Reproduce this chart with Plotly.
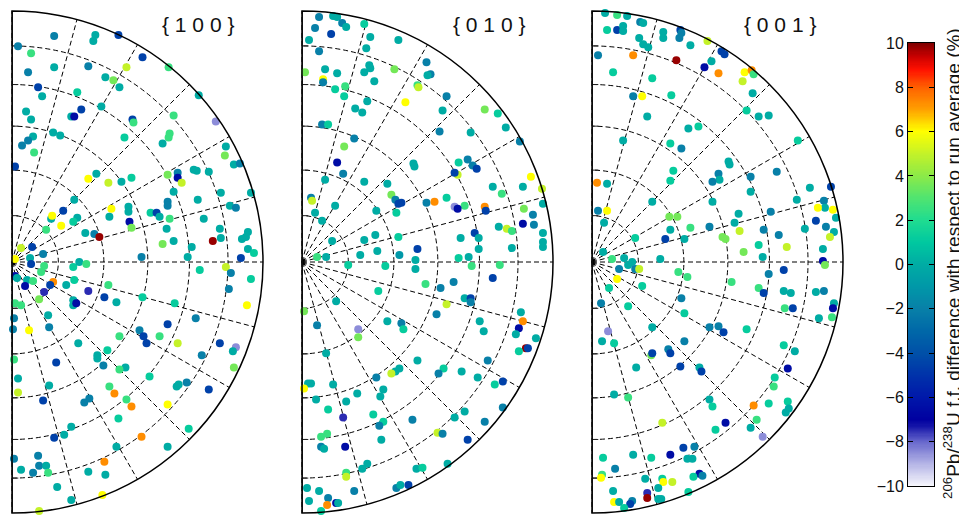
import numpy as np
import plotly.graph_objects as go

# ---------------- data ----------------
PANEL_TITLES = ["{ 1 0 0 }", "{ 0 1 0 }", "{ 0 0 1 }"]

# (x, y) in equal-area projection plane (unit radius), value = % difference
PTS_100 = [
    (0.168,0.900,-2),(0.332,0.904,0),(0.324,0.880,0),(0.424,0.904,-4.5),(0.024,0.860,-2),(0.076,0.832,2.5),
    (0.520,0.816,-4.5),(0.168,0.776,0),(0.304,0.780,-2),(0.456,0.776,5),(0.624,0.776,2.5),(0.064,0.756,-2),
    (0.372,0.736,0),(0.404,0.724,3.6),(0.428,0.696,0),(0.104,0.696,-4.5),(0.120,0.660,0),(0.260,0.676,1.2),
    (0.744,0.664,0),(0.056,0.600,0),(0.276,0.608,-4.5),(0.236,0.580,0),(0.248,0.580,-6.5),(0.356,0.620,0),
    (0.076,0.568,0),(0.480,0.568,-4.5),(0.484,0.556,2.5),(0.644,0.584,2.5),(0.812,0.560,-8.5),(0.164,0.516,0),
    (0.192,0.504,0),(0.628,0.512,2.5),(0.624,0.496,2.5),(0.448,0.496,1.2),(0.084,0.500,0),(0.064,0.484,-2),
    (0.040,0.464,-2),(0.600,0.472,0),(0.852,0.460,0),(0.088,0.436,2.5),(0.848,0.424,3.6),(0.012,0.380,-4.5),
    (0.884,0.388,0),(0.908,0.392,-2),(0.724,0.368,0),(0.736,0.364,0),(0.784,0.360,0),(0.660,0.356,-2),
    (0.660,0.336,-6.5),(0.620,0.348,3.6),(0.676,0.316,5),(0.336,0.352,0),(0.304,0.332,6),(0.476,0.336,1.2),
    (0.384,0.316,5),(0.436,0.320,0),(0.644,0.280,0),(0.832,0.276,0),(0.952,0.276,0),(0.248,0.248,0),
    (0.740,0.248,0),(0.620,0.240,-2),(0.620,0.224,-2),(0.464,0.220,0),(0.464,0.200,0),(0.396,0.212,6),
    (0.204,0.204,-4.5),(0.552,0.196,1.2),(0.576,0.196,-4.5),(0.156,0.172,0),(0.160,0.184,6),(0.868,0.224,0),
    (0.892,0.216,-2),(0.388,0.180,0),(0.260,0.176,0),(0.244,0.160,1.2),(0.588,0.180,0),(0.628,0.172,2.5),
    (0.764,0.172,0),(0.468,0.160,-6.5),(0.476,0.136,3.6),(0.196,0.144,6),(0.136,0.128,2.5),(0.616,0.132,0),
    (0.828,0.132,0),(0.292,0.116,0),(0.328,0.112,-2),(0.348,0.100,9.8),(0.940,0.120,0),(0.932,0.100,0),
    (0.916,0.092,0),(0.800,0.084,9.8),(0.832,0.096,0),(0.600,0.072,3.6),(0.644,0.084,0),(0.036,0.056,5),
    (0.080,0.060,-4.5),(0.716,0.060,0),(0.940,0.052,0),(0.964,0.036,1.2),(0.124,0.032,-2),(0.912,0.016,-4.5),
    (0.012,0.012,6),(0.072,0.016,0),
    (0.516,0.020,-2),(0.700,0.020,0),(0.244,-0.020,1.2),(0.268,0.000,0),(0.296,-0.008,2.5),(0.076,-0.008,-4.5),
    (0.128,-0.016,2.5),(0.012,-0.056,-6.5),(0.020,-0.064,0),(0.060,-0.072,0),(0.084,-0.076,2.5),(0.116,-0.040,2.5),
    (0.164,-0.080,7.3),(0.052,-0.096,-6.5),(0.152,-0.092,-4.5),(0.748,-0.032,1.2),(0.852,-0.020,5),(0.872,-0.044,-2),
    (0.952,-0.068,1.2),(0.248,-0.072,1.2),(0.216,-0.092,0),(0.384,-0.092,2.5),(0.304,-0.116,-7.5),(0.128,-0.120,-7.5),
    (0.864,-0.108,-2),(0.368,-0.140,-4.5),(0.520,-0.140,1.2),(0.108,-0.148,3.6),(0.244,-0.152,0),(0.244,-0.172,0),
    (0.256,-0.164,-6.5),(0.416,-0.160,0),(0.648,-0.164,1.2),(0.012,-0.164,2.5),(0.036,-0.172,2.5),(0.936,-0.172,6),
    (0.144,-0.212,0),(0.732,-0.224,-2),(0.008,-0.224,-2),(0.004,-0.268,-2),(0.068,-0.272,6),(0.148,-0.260,-2),
    (0.620,-0.248,-4.5),(0.508,-0.272,-2),(0.524,-0.296,-4.5),(0.536,-0.324,-4.5),(0.428,-0.296,2.5),(0.588,-0.296,2.5),
    (0.660,-0.324,5),(0.828,-0.324,-4.5),(0.892,-0.340,-8.5),(0.880,-0.356,0),(0.264,-0.324,0),(0.380,-0.352,1.2),
    (0.340,-0.372,0),(0.340,-0.384,0),(0.756,-0.372,-2),(0.008,-0.388,2.5),(0.176,-0.400,-4.5),(0.364,-0.412,-2),
    (0.452,-0.420,0),(0.428,-0.428,2.5),(0.884,-0.420,3.6),(0.024,-0.464,0),(0.548,-0.456,1.2),(0.656,-0.496,0),
    (0.664,-0.488,0),(0.696,-0.480,-2),(0.148,-0.492,0),(0.388,-0.496,2.5),(0.784,-0.508,-4.5),(0.024,-0.520,5),
    (0.408,-0.524,7.3),(0.456,-0.548,2.5),(0.124,-0.552,-4.5),(0.288,-0.560,-2),(0.308,-0.544,-2),(0.476,-0.576,7.3),
    (0.620,-0.568,6),(0.424,-0.624,1.2),(0.704,-0.664,1.2),(0.236,-0.656,0),(0.208,-0.688,0),(0.168,-0.700,-4.5),
    (0.516,-0.696,7.3),(0.416,-0.736,0),(0.620,-0.736,0),(0.008,-0.784,-2),(0.104,-0.772,-2),(0.108,-0.812,-2),
    (0.136,-0.812,0),(0.368,-0.796,7.3),(0.036,-0.828,0),(0.084,-0.840,-2),(0.144,-0.840,2.5),(0.304,-0.836,0),
    (0.372,-0.848,0),(0.180,-0.896,0),(0.236,-0.948,0),(0.360,-0.928,6),(0.064,-1.000,0),(0.108,-0.992,5),
]

PTS_010 = [
    (0.068,0.976,-2),(0.124,0.980,0),(0.140,0.976,0),(0.160,0.952,-2),(0.176,0.936,0),(0.052,0.932,-2),
    (0.116,0.908,-4.5),(0.248,0.948,1.2),(0.272,0.896,0),(0.028,0.884,0),(0.384,0.884,0),(0.256,0.852,0),
    (0.068,0.840,-2),(0.496,0.796,-2),(0.012,0.756,3.6),(0.092,0.768,0),(0.140,0.752,0),(0.248,0.756,0),
    (0.268,0.784,0),(0.272,0.772,0),(0.368,0.768,3.6),(0.512,0.748,-2),(0.500,0.744,0),(0.084,0.728,6),
    (0.084,0.716,-2),(0.288,0.720,0),(0.708,0.712,6),(0.172,0.700,2.5),(0.132,0.688,1.2),(0.460,0.704,2.5),
    (0.464,0.696,5),(0.168,0.660,1.2),(0.576,0.660,-2),(0.412,0.636,6),(0.260,0.640,0),(0.212,0.612,0),
    (0.240,0.596,0),(0.728,0.608,3.6),(0.560,0.604,0),(0.780,0.592,1.2),(0.080,0.548,-2),(0.104,0.548,1.2),
    (0.812,0.536,0),(0.548,0.520,-2),(0.672,0.516,0),(0.208,0.492,-2),(0.868,0.480,-2),(0.168,0.460,3.6),
    (0.140,0.396,-6.5),(0.624,0.396,1.2),(0.660,0.408,-2),(0.680,0.384,-2),(0.696,0.372,-4.5),(0.444,0.392,0),
    (0.448,0.380,0),(0.164,0.352,-2),(0.620,0.348,5),(0.608,0.356,-4.5),(0.912,0.340,6),(0.092,0.328,0),
    (0.248,0.320,0),(0.340,0.312,0),(0.760,0.300,0),(0.880,0.300,0),(0.956,0.292,5),(0.796,0.272,2.5),
    (0.036,0.256,-2),(0.040,0.244,5),(0.356,0.268,3.6),(0.372,0.248,-2),(0.384,0.232,-4.5),(0.396,0.236,-4.5),
    (0.576,0.256,1.2),(0.496,0.236,-2),(0.528,0.240,7.3),(0.960,0.232,0),(0.132,0.224,0),(0.648,0.224,2.5),
    (0.728,0.220,7.3),(0.732,0.204,-4.5),(0.608,0.220,-8.5),(0.620,0.212,-6.5),(0.296,0.204,0),(0.052,0.196,0),
    (0.376,0.196,1.2),(0.884,0.212,3.6),(0.920,0.188,-2),(0.080,0.164,0),(0.880,0.152,-6.5),(0.924,0.148,-2),
    (0.784,0.140,0),(0.816,0.132,5),(0.836,0.124,2.5),(0.292,0.108,0),(0.384,0.100,1.2),(0.688,0.116,-4.5),
    (0.704,0.096,0),(0.632,0.096,0),(0.960,0.116,0),(0.960,0.080,0),(0.960,0.060,0),(0.120,0.084,0),
    (0.248,0.088,0),(0.704,0.052,0),(0.836,0.056,0),(0.460,0.052,-4.5),(0.232,0.028,0),(0.300,0.044,0),
    (0.388,0.028,-1),(0.060,0.020,2.5),(0.096,0.020,0),(0.624,0.016,1.2),(0.664,0.020,0),
    (0.184,-0.012,1.2),(0.332,-0.016,1.2),(0.452,0.008,0),(0.452,-0.028,0),(0.676,-0.016,2.5),(0.788,-0.012,2.5),
    (0.760,-0.064,-4.5),(0.604,-0.080,-2),(0.492,-0.088,2.5),(0.304,-0.116,1.2),(0.552,-0.104,-2),(0.136,-0.156,0),
    (0.648,-0.144,0),(0.672,-0.144,-4.5),(0.672,-0.160,-2),(0.576,-0.168,5),(0.008,-0.196,3.6),(0.536,-0.208,-2),
    (0.872,-0.200,0),(0.880,-0.236,7.3),(0.708,-0.236,0),(0.060,-0.252,-2),(0.340,-0.236,0),(0.396,-0.244,-2),
    (0.404,-0.268,1.2),(0.864,-0.264,-6.5),(0.852,-0.288,0),(0.724,-0.276,0),(0.224,-0.268,-8.5),(0.224,-0.300,3.6),
    (0.932,-0.304,0),(0.960,-0.300,0),(0.892,-0.344,9.8),(0.900,-0.344,-4.5),(0.864,-0.356,1.2),(0.096,-0.364,0),
    (0.740,-0.392,-2),(0.460,-0.392,0),(0.388,-0.424,0),(0.372,-0.436,0),(0.356,-0.444,5),(0.564,-0.424,1.2),
    (0.636,-0.436,0),(0.544,-0.444,-2),(0.296,-0.460,-2),(0.700,-0.460,0),(0.024,-0.484,0),(0.036,-0.484,0),
    (0.124,-0.488,0),(0.768,-0.488,1.2),(0.800,-0.476,-4.5),(0.008,-0.504,6),(0.324,-0.508,0),(0.312,-0.536,0),
    (0.220,-0.524,0),(0.056,-0.548,0),(0.176,-0.556,0),(0.104,-0.588,1.2),(0.284,-0.608,1.2),(0.648,-0.596,0),
    (0.800,-0.580,-2),(0.164,-0.620,-7.5),(0.608,-0.620,0),(0.440,-0.628,-2),(0.324,-0.636,1.2),(0.308,-0.652,-2),
    (0.728,-0.636,-2),(0.540,-0.680,5),(0.560,-0.684,-2),(0.076,-0.696,2.5),(0.100,-0.684,2.5),(0.660,-0.708,-4.5),
    (0.316,-0.708,0),(0.076,-0.736,-2),(0.088,-0.744,0),(0.172,-0.736,-6.5),(0.260,-0.804,0),(0.240,-0.824,0),
    (0.456,-0.824,0),(0.480,-0.820,1.2),(0.580,-0.804,0),(0.576,-0.832,6),(0.176,-0.840,2.5),(0.176,-0.856,5),
    (0.020,-0.900,0),(0.068,-0.912,0),(0.208,-0.912,-2),(0.376,-0.900,-2),(0.392,-0.888,0),(0.424,-0.888,-4.5),
    (0.104,-0.940,-2),(0.028,-0.952,0),(0.100,-0.968,7.3),(0.136,-0.960,-6.5),(0.144,-0.960,0),(0.076,-0.992,1.2),
]

PTS_001 = [
    (0.052,0.992,0),(0.100,0.984,2.5),(0.140,0.980,0),(0.192,0.956,-2),(0.204,0.952,0),(0.060,0.924,1.2),
    (0.100,0.924,-4.5),(0.124,0.940,0),(0.124,0.920,0),(0.284,0.916,0),(0.284,0.892,0),(0.352,0.924,-4.5),
    (0.348,0.892,-2),(0.356,0.912,-2),(0.188,0.892,0),(0.204,0.868,0),(0.224,0.856,0),(0.460,0.880,5),
    (0.392,0.864,0),(0.516,0.840,-4.5),(0.528,0.828,-4.5),(0.024,0.824,-2),(0.164,0.824,7.3),(0.336,0.804,9.8),
    (0.476,0.800,0),(0.448,0.776,-6.5),(0.504,0.752,7.3),(0.608,0.756,6),(0.636,0.764,7.3),(0.644,0.748,2.5),
    (0.600,0.720,5),(0.084,0.756,1.2),(0.240,0.732,1.2),(0.316,0.664,1.2),(0.164,0.660,-2),(0.200,0.660,6),
    (0.640,0.672,0),(0.616,0.604,1.2),(0.664,0.580,0),(0.704,0.584,0),(0.220,0.580,0),(0.384,0.532,0),
    (0.424,0.540,1.2),(0.124,0.484,0),(0.820,0.484,1.2),(0.312,0.472,1.2),(0.356,0.452,-2),(0.544,0.400,0),
    (0.548,0.388,0),(0.324,0.364,1.2),(0.312,0.324,1.2),(0.736,0.360,-2),(0.504,0.352,-2),(0.508,0.328,0),
    (0.480,0.320,-2),(0.632,0.340,-2),(0.020,0.316,7.3),(0.060,0.312,0),(0.952,0.300,-4.5),(0.868,0.296,0),
    (0.632,0.280,0),(0.240,0.240,0),(0.480,0.240,0),(0.816,0.248,0),(0.924,0.244,-2),(0.928,0.216,0),
    (0.024,0.204,-2),(0.060,0.204,6),(0.900,0.216,6),(0.960,0.208,6),(0.584,0.192,0),(0.712,0.200,-2),
    (0.308,0.180,3.6),(0.340,0.180,3.6),(0.892,0.164,-4.5),(0.932,0.140,-2),(0.972,0.176,0),(0.048,0.156,0),
    (0.568,0.156,0),(0.468,0.140,-2),(0.392,0.136,2.5),(0.312,0.128,0),(0.588,0.124,5),(0.684,0.128,-2),
    (0.848,0.132,0),(0.964,0.120,0),(1.000,0.120,3.6),(0.292,0.092,-4.5),(0.368,0.092,0),(0.520,0.100,3.6),
    (0.532,0.092,3.6),(0.744,0.108,-2),(0.948,0.100,5),(0.172,0.096,1.2),(0.776,0.060,5),(0.664,0.068,1.2),
    (0.604,0.040,3.6),(0.920,0.052,0),(1.004,0.060,1.2),(0.044,0.040,0),(0.080,0.012,2.5),(0.128,0.016,0),
    (0.272,0.012,0),(0.680,0.020,0),(0.920,0.004,-6.5),
    (0.160,0.000,0),(0.144,-0.012,0),(0.172,-0.028,-2),(0.188,-0.028,5),(0.108,-0.028,-2),(0.100,-0.068,6),
    (0.344,-0.040,2.5),(0.380,-0.060,2.5),(0.556,-0.080,2.5),(0.704,-0.048,-2),(0.764,-0.032,-4.5),(0.928,-0.012,3.6),
    (1.000,-0.072,-2),(0.068,-0.104,1.2),(0.200,-0.096,1.2),(0.664,-0.104,2.5),(0.684,-0.124,-4.5),(0.764,-0.116,0),
    (0.792,-0.124,0),(0.892,-0.120,0),(0.924,-0.116,-2),(0.356,-0.144,-2),(0.036,-0.164,-2),(0.144,-0.176,1.2),
    (0.768,-0.184,2.5),(0.800,-0.184,-4.5),(0.964,-0.164,0),(0.960,-0.184,-6.5),(0.368,-0.204,1.2),(0.904,-0.224,0),
    (0.956,-0.220,2.5),(0.976,-0.252,2.5),(0.240,-0.260,0),(0.468,-0.260,-2),(0.504,-0.256,-2),(0.524,-0.280,-4.5),
    (0.616,-0.268,1.2),(0.064,-0.276,-8.5),(0.040,-0.316,0),(0.088,-0.324,1.2),(0.368,-0.316,-2),(0.764,-0.332,1.2),
    (0.808,-0.356,0),(0.304,-0.348,-2),(0.312,-0.364,-4.5),(0.236,-0.372,3.6),(0.240,-0.364,-4.5),(0.176,-0.420,0),
    (0.352,-0.416,-4.5),(0.428,-0.420,0),(0.436,-0.436,-4.5),(0.780,-0.424,-6.5),(0.728,-0.460,1.2),(0.724,-0.496,2.5),
    (0.088,-0.528,0),(0.144,-0.540,2.5),(0.468,-0.548,0),(0.480,-0.576,1.2),(0.644,-0.572,7.3),(0.704,-0.564,1.2),
    (0.780,-0.556,1.2),(0.784,-0.584,0),(0.772,-0.600,0),(0.280,-0.640,5),(0.532,-0.640,-6.5),(0.656,-0.628,2.5),
    (0.632,-0.660,0),(0.492,-0.668,1.2),(0.680,-0.696,-8.5),(0.364,-0.740,-4.5),(0.408,-0.736,-2),(0.312,-0.768,-6.5),
    (0.164,-0.768,0),(0.044,-0.780,1.2),(0.236,-0.780,1.2),(0.380,-0.784,0),(0.400,-0.784,0),(0.092,-0.824,-2),
    (0.428,-0.844,-6.5),(0.440,-0.852,-2),(0.404,-0.856,1.2),(0.040,-0.848,2.5),(0.036,-0.860,6),(0.212,-0.864,0),
    (0.280,-0.864,1.2),(0.284,-0.876,6),(0.320,-0.876,5),(0.264,-0.900,0),(0.384,-0.916,1.2),(0.084,-0.912,0),
    (0.220,-0.920,-7.5),(0.220,-0.940,9.8),(0.264,-0.944,0),(0.276,-0.944,0),(0.088,-0.956,6),(0.108,-0.956,0),
    (0.160,-0.952,-2),(0.152,-0.964,-4.5),(0.128,-0.980,1.2),
]

RING_TILTS = [15, 30, 45, 60, 75]          # polar-angle rings (deg)
SPOKE_STEP = 15                             # azimuth spokes (deg)
CB_TICKS = [-10, -8, -6, -4, -2, 0, 2, 4, 6, 8, 10]
CB_TITLE = "<sup>206</sup>Pb/<sup>238</sup>U f.f. difference with respect to run average (%)"

COLORSCALE = [
    [0.00, "#f6f6fc"], [0.05, "#b4b4e6"], [0.10, "#6666cc"], [0.135, "#1414a8"],
    [0.15, "#0000a0"], [0.20, "#0018aa"], [0.25, "#0032aa"], [0.30, "#0050a8"],
    [0.35, "#0068a8"], [0.40, "#0880a8"], [0.45, "#0098a8"], [0.50, "#00aca4"],
    [0.55, "#00c8a0"], [0.60, "#20dc90"], [0.65, "#50e470"], [0.70, "#8cea48"],
    [0.75, "#c4f228"], [0.80, "#ffff00"], [0.825, "#ffd000"], [0.85, "#ffa000"],
    [0.90, "#ff6000"], [0.94, "#ff1000"], [0.97, "#c80000"], [1.00, "#800000"],
]

# ---------------- figure ----------------
W, H = 967, 517
PAGE_MARGIN = 8          # default body margin of the html page
FONT = "Liberation Sans, Arial, Helvetica, sans-serif"


def fx(X):
    return (X - PAGE_MARGIN) / W


def fy(Y):
    return 1 - (Y - PAGE_MARGIN) / H


ring_r = [float(np.sqrt(2) * np.sin(np.radians(t) / 2)) for t in RING_TILTS]

fig = go.Figure()
panels = [PTS_100, PTS_010, PTS_001]
x_doms = [(12, 263), (302, 553), (592, 843)]
y_dom = [fy(513), fy(11)]
title_x = [198, 489, 780]

layout_polars = {}
for i, pts in enumerate(panels):
    key = "polar" if i == 0 else f"polar{i+1}"
    arr = np.array(pts, dtype=float)
    px, py, val = arr[:, 0], arr[:, 1], arr[:, 2]
    r = np.hypot(px, py)
    th = np.degrees(np.arctan2(py, px))

    fig.add_trace(go.Scatterpolar(
        r=[1, 0, 1], theta=[90, 90, -90], mode="lines",
        line=dict(color="#333333", width=2), subplot=key,
        showlegend=False, hoverinfo="skip"))
    fig.add_trace(go.Scatterpolar(
        r=ring_r + ring_r, theta=[90] * len(ring_r) + [-90] * len(ring_r),
        mode="markers", marker=dict(symbol="line-ew", size=9, line=dict(color="#222222", width=1)),
        subplot=key, showlegend=False, hoverinfo="skip", cliponaxis=True))
    fig.add_trace(go.Scatterpolar(
        r=r, theta=th, mode="markers", subplot=key, showlegend=False, cliponaxis=False,
        marker=dict(size=8, color=val, colorscale=COLORSCALE, cmin=-10, cmax=10,
                    line=dict(width=0), showscale=False)))

    layout_polars[key] = dict(
        domain=dict(x=[fx(x_doms[i][0]), fx(x_doms[i][1])], y=y_dom),
        sector=[-90, 90],
        bgcolor="white",
        radialaxis=dict(range=[0, 1], tickmode="array", tickvals=ring_r, showticklabels=False,
                        ticks="", showline=False, gridcolor="black", griddash="5px,3px",
                        gridwidth=1, angle=0),
        angularaxis=dict(tickmode="linear", tick0=0, dtick=SPOKE_STEP, showticklabels=False,
                         ticks="", showline=True, linecolor="black", linewidth=1.5,
                         gridcolor="black", griddash="5px,3px", gridwidth=1,
                         rotation=0, direction="counterclockwise"),
    )

levels = np.linspace(-10, 10, 401)
fig.add_trace(go.Heatmap(
    z=levels.reshape(-1, 1), x=[0], y=levels, colorscale=COLORSCALE, zmin=-10, zmax=10,
    showscale=False, hoverinfo="skip", xaxis="x", yaxis="y"))

annotations = [
    dict(text=t, x=fx(title_x[i]), y=fy(25), xref="paper", yref="paper",
         showarrow=False, xanchor="center", yanchor="middle",
         font=dict(family=FONT, size=21, color="#111111"))
    for i, t in enumerate(PANEL_TITLES)
]
annotations.append(dict(
    text=CB_TITLE, x=fx(952), y=fy(264), xref="paper", yref="paper", textangle=-90,
    showarrow=False, xanchor="center", yanchor="middle",
    font=dict(family=FONT, size=19, color="#111111")))

fig.update_layout(
    width=W, height=H, autosize=False, margin=dict(l=0, r=0, t=0, b=0, pad=0),
    paper_bgcolor="white", plot_bgcolor="white",
    font=dict(family=FONT, color="#111111"),
    xaxis=dict(domain=[fx(908), fx(934)], range=[-0.5, 0.5], showticklabels=False, ticks="",
               showgrid=False, zeroline=False, showline=True, mirror=True, linecolor="black",
               linewidth=1, automargin=False),
    yaxis=dict(domain=[fy(486), fy(43)], range=[-10, 10], tickmode="array",
               tickvals=CB_TICKS, ticktext=[str(t).replace("-", "\u2212") for t in CB_TICKS],
               ticks="inside", ticklen=5, tickcolor="black", showgrid=False, zeroline=False,
               showline=True, mirror="ticks", linecolor="black", linewidth=1, automargin=False,
               tickfont=dict(family=FONT, size=16, color="#111111")),
    annotations=annotations,
    **layout_polars,
)

fig.write_html("out.html")
